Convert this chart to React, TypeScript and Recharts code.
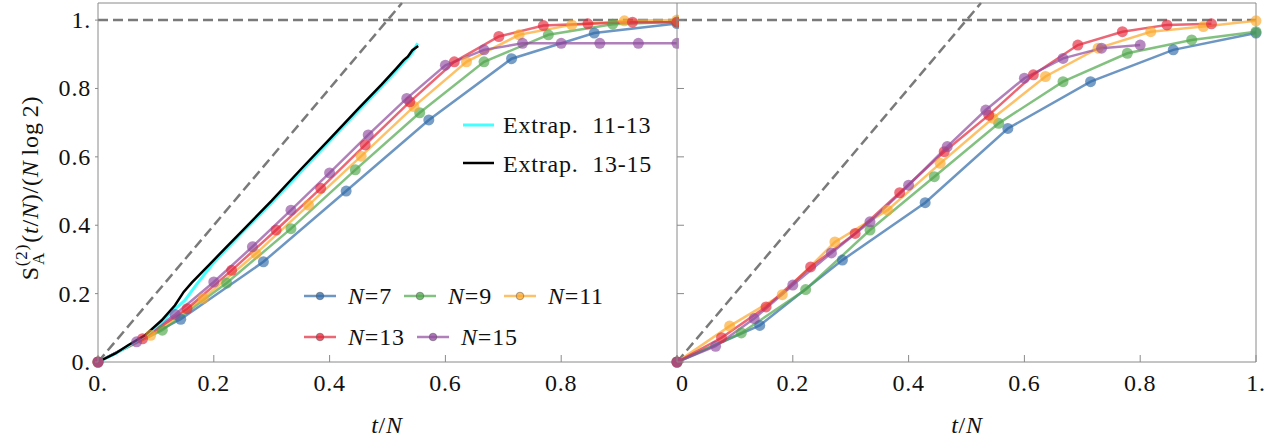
import React from 'react';
import { LineChart, Line, XAxis, YAxis, ReferenceLine } from 'recharts';

// ---------- data (x = t/N, y = S_A^(2)/(N log 2)) ----------
const t7 = [0, 0.1429, 0.2857, 0.4286, 0.5714, 0.7143, 0.8571, 1.0];
const t9 = [0, 0.1111, 0.2222, 0.3333, 0.4444, 0.5556, 0.6667, 0.7778, 0.8889, 1.0];
const t11 = [0, 0.0909, 0.1818, 0.2727, 0.3636, 0.4545, 0.5455, 0.6364, 0.7273, 0.8182, 0.9091, 1.0];
const t13 = [0, 0.0769, 0.1538, 0.2308, 0.3077, 0.3846, 0.4615, 0.5385, 0.6154, 0.6923, 0.7692, 0.8462, 0.9231, 1.0];
const t15 = [0, 0.0667, 0.1333, 0.2, 0.2667, 0.3333, 0.4, 0.4667, 0.5333, 0.6, 0.6667, 0.7333, 0.8, 0.8667, 0.9333, 1.0];

// left panel
const leftN7 = [0, 0.125, 0.293, 0.5, 0.708, 0.887, 0.962, 0.99];
const leftN9 = [0, 0.093, 0.231, 0.39, 0.562, 0.729, 0.878, 0.957, 0.988, 0.995];
const leftN11 = [0, 0.078, 0.186, 0.317, 0.459, 0.602, 0.747, 0.878, 0.957, 0.986, 0.998, 1.0];
const leftN13 = [0, 0.068, 0.156, 0.268, 0.386, 0.508, 0.635, 0.761, 0.878, 0.952, 0.984, 0.989, 0.994, 0.994];
const leftN15 = [0, 0.059, 0.139, 0.234, 0.337, 0.444, 0.553, 0.664, 0.771, 0.868, 0.913, 0.932, 0.932, 0.932, 0.932, 0.932];

// extrapolations (left panel)
const extrapT1113 = [0, 0.03, 0.052, 0.081, 0.11, 0.133, 0.15, 0.168, 0.197, 0.225, 0.25, 0.3, 0.35, 0.4, 0.45, 0.49, 0.515, 0.53, 0.543, 0.552];
const extrapV1113 = [0, 0.024, 0.047, 0.076, 0.118, 0.155, 0.18, 0.222, 0.285, 0.336, 0.38, 0.466, 0.556, 0.646, 0.736, 0.806, 0.852, 0.88, 0.905, 0.932];
const extrapT1315 = [0, 0.03, 0.052, 0.081, 0.11, 0.133, 0.148, 0.162, 0.197, 0.225, 0.25, 0.3, 0.35, 0.4, 0.45, 0.49, 0.515, 0.528, 0.535, 0.543, 0.553];
const extrapV1315 = [0, 0.025, 0.049, 0.078, 0.122, 0.166, 0.205, 0.232, 0.293, 0.342, 0.385, 0.472, 0.563, 0.652, 0.742, 0.812, 0.858, 0.883, 0.893, 0.912, 0.924];

// right panel
const rightN7 = [0, 0.107, 0.298, 0.466, 0.683, 0.82, 0.913, 0.962];
const rightN9 = [0, 0.085, 0.212, 0.386, 0.542, 0.698, 0.82, 0.903, 0.942, 0.966];
const rightN11 = [0, 0.105, 0.197, 0.351, 0.444, 0.581, 0.713, 0.835, 0.918, 0.966, 0.981, 0.998];
const rightN13 = [0, 0.071, 0.161, 0.278, 0.376, 0.495, 0.615, 0.722, 0.84, 0.927, 0.966, 0.986, 0.989];
const rightN15 = [0, 0.046, 0.127, 0.225, 0.319, 0.41, 0.517, 0.63, 0.737, 0.83, 0.888, 0.918, 0.927];

const xTicks = [0, 0.2, 0.4, 0.6, 0.8, 1];
const yTicks = [0, 0.2, 0.4, 0.6, 0.8, 1];
const leftXLabels = ['0.', '0.2', '0.4', '0.6', '0.8', ''];
const rightXLabels = ['0', '0.2', '0.4', '0.6', '0.8', '1.'];
const leftYLabels = ['0.', '0.2', '0.4', '0.6', '0.8', '1.'];

const seriesNames = ['N=7', 'N=9', 'N=11', 'N=13', 'N=15'];
const colors = ['#2f6aa8', '#4ea64a', '#fca82a', '#e3263a', '#8f4a9e'];

// ---------- helpers ----------
const mk = (t: number[], v: number[]) => v.map((y, i) => ({ x: t[i], y }));
const FONT = '"Liberation Serif", "Times New Roman", serif';
const AXIS = '#8a8a8a';
const FS = 24;
const LS = 0.8;
const txt = { fontFamily: FONT, fontSize: FS, letterSpacing: LS } as React.CSSProperties;

const labelFor = (labels: string[], value: number) => {
  const i = xTicks.findIndex((v) => Math.abs(v - value) < 1e-6);
  return i >= 0 ? labels[i] : '';
};

const makeXTick = (labels: string[], firstDx: number) => (p: any) => {
  const { x, y, payload } = p;
  const lab = labelFor(labels, payload.value);
  const dx = Math.abs(payload.value) < 1e-6 ? firstDx : 0;
  return (
    <g>
      <line x1={x} x2={x} y1={y} y2={y - 7} stroke={AXIS} strokeWidth={1} />
      <text x={x + dx} y={y + 29} textAnchor="middle" style={txt} fill="#111">
        {lab}
      </text>
    </g>
  );
};

const leftYTick = (p: any) => {
  const { x, y, payload } = p;
  const lab = labelFor(leftYLabels, payload.value);
  return (
    <g>
      <line x1={x - 3} x2={x} y1={y} y2={y} stroke={AXIS} strokeWidth={1} />
      <text x={x - 7} y={y + 8} textAnchor="end" style={txt} fill="#111">
        {lab}
      </text>
    </g>
  );
};

const rightYTick = (p: any) => {
  const { x, y } = p;
  return (
    <g>
      <line x1={x} x2={x + 7} y1={y} y2={y} stroke={AXIS} strokeWidth={1} />
    </g>
  );
};

const dataLeft = [leftN7, leftN9, leftN11, leftN13, leftN15];
const dataRight = [rightN7, rightN9, rightN11, rightN13, rightN15];
const tAll = [t7, t9, t11, t13, t15];

const seriesLines = (vals: number[][], prefix: string) =>
  vals.map((v, i) => (
    <Line
      key={prefix + i}
      data={mk(tAll[i], v)}
      dataKey="y"
      type="linear"
      stroke={colors[i]}
      strokeOpacity={0.7}
      strokeWidth={2.5}
      dot={{ r: 5.5, fill: colors[i], fillOpacity: 0.65, stroke: 'none' }}
      isAnimationActive={false}
      name={seriesNames[i]}
    />
  ));

const common = () => [
  <ReferenceLine key="top" y={1.05} stroke={AXIS} strokeWidth={1} ifOverflow="visible" />,
  <ReferenceLine key="one" y={1} stroke="#7a7a7a" strokeWidth={2.5} strokeDasharray="10 5" />,
  <ReferenceLine
    key="diag"
    segment={[
      { x: 0, y: 0 },
      { x: 0.525, y: 1.05 },
    ]}
    stroke="#7a7a7a"
    strokeWidth={2.5}
    strokeDasharray="10 5"
    ifOverflow="visible"
  />,
];

function LeftPanel() {
  return (
    <LineChart width={679} height={444} margin={{ top: 3, right: 2, bottom: 0, left: 0 }}>
      <XAxis
        type="number"
        dataKey="x"
        domain={[0, 1]}
        ticks={xTicks}
        interval={0}
        height={82}
        tickSize={0}
        tickMargin={0}
        tickLine={false}
        axisLine={{ stroke: AXIS }}
        tick={makeXTick(leftXLabels, 0)}
        allowDuplicatedCategory={false}
      />
      <YAxis
        type="number"
        domain={[0, 1.05]}
        ticks={yTicks}
        interval={0}
        width={98}
        tickSize={0}
        tickMargin={0}
        tickLine={false}
        axisLine={{ stroke: AXIS }}
        tick={leftYTick}
      />
      {common()}
      {seriesLines(dataLeft, 'l')}
      <Line
        data={mk(extrapT1113, extrapV1113)}
        dataKey="y"
        type="linear"
        stroke="#44ffff"
        strokeWidth={3}
        dot={false}
        isAnimationActive={false}
        name="Extrap. 11-13"
      />
      <Line
        data={mk(extrapT1315, extrapV1315)}
        dataKey="y"
        type="linear"
        stroke="#000"
        strokeWidth={2.5}
        dot={false}
        isAnimationActive={false}
        name="Extrap. 13-15"
      />
    </LineChart>
  );
}

function RightPanel() {
  return (
    <LineChart width={640} height={444} margin={{ top: 3, right: 23, bottom: 0, left: 0 }}>
      <XAxis
        type="number"
        dataKey="x"
        domain={[0, 1]}
        ticks={xTicks}
        interval={0}
        height={82}
        tickSize={0}
        tickMargin={0}
        tickLine={false}
        axisLine={{ stroke: AXIS }}
        tick={makeXTick(rightXLabels, 5.5)}
        allowDuplicatedCategory={false}
      />
      <YAxis
        type="number"
        domain={[0, 1.05]}
        ticks={yTicks}
        interval={0}
        width={38}
        tickSize={0}
        tickMargin={0}
        tickLine={false}
        axisLine={{ stroke: AXIS }}
        tick={rightYTick}
      />
      <ReferenceLine x={1} stroke={AXIS} strokeWidth={1} ifOverflow="visible" />
      {common()}
      {seriesLines(dataRight, 'r')}
    </LineChart>
  );
}

const legendRows = [
  { i: 0, x: 304, y: 296 },
  { i: 1, x: 404, y: 296 },
  { i: 2, x: 504, y: 296 },
  { i: 3, x: 304, y: 337 },
  { i: 4, x: 417, y: 337 },
];

function NLabel({ name }: { name: string }) {
  const rest = name.slice(1);
  return (
    <>
      <tspan fontStyle="italic">N</tspan>
      <tspan>{rest}</tspan>
    </>
  );
}

function Overlay() {
  return (
    <svg
      width={1279}
      height={444}
      style={{ position: 'absolute', left: 0, top: 0, pointerEvents: 'none' }}
    >
      {/* series legend */}
      {legendRows.map(({ i, x, y }) => (
        <g key={i}>
          <line x1={x} x2={x + 32} y1={y} y2={y} stroke={colors[i]} strokeOpacity={0.7} strokeWidth={2.5} />
          <circle cx={x + 16} cy={y} r={3.8} fill={colors[i]} fillOpacity={0.75} stroke="#555" strokeOpacity={0.5} strokeWidth={1} />
          <text x={x + 44} y={y + 8} style={txt} fill="#111">
            <NLabel name={seriesNames[i]} />
          </text>
        </g>
      ))}
      {/* extrapolation legend */}
      <line x1={463} x2={494} y1={125} y2={125} stroke="#44ffff" strokeWidth={3} />
      <text x={503} y={133} style={txt} fill="#111" xmlSpace="preserve">
        Extrap.  11-13
      </text>
      <line x1={463} x2={494} y1={163} y2={163} stroke="#000" strokeWidth={2.5} />
      <text x={503} y={171.5} style={txt} fill="#111" xmlSpace="preserve">
        Extrap.  13-15
      </text>
      {/* x axis titles */}
      {[387, 967].map((cx) => (
        <text key={cx} x={cx} y={433} textAnchor="middle" style={txt} fill="#111">
          <tspan fontStyle="italic">t</tspan>
          <tspan>/</tspan>
          <tspan fontStyle="italic">N</tspan>
        </text>
      ))}
      {/* y axis title */}
      <text transform="translate(38,188) rotate(-90)" textAnchor="middle" style={txt} fill="#111">
        <tspan>S</tspan>
        <tspan fontSize={17} dy={-11}>(2)</tspan>
        <tspan fontSize={17} dx={-21} dy={17}>A</tspan>
        <tspan dy={-6} dx={9}>(</tspan>
        <tspan fontStyle="italic">t</tspan>
        <tspan>/</tspan>
        <tspan fontStyle="italic">N</tspan>
        <tspan>)/(</tspan>
        <tspan fontStyle="italic">N</tspan>
        <tspan dx={5}>log</tspan>
        <tspan dx={5}>2)</tspan>
      </text>
    </svg>
  );
}

export default function App() {
  return (
    <div style={{ position: 'absolute', left: 0, top: 0, width: 1279, height: 444, background: '#fff' }}>
      <div style={{ position: 'absolute', left: 0, top: 0 }}>
        <LeftPanel />
      </div>
      <div style={{ position: 'absolute', left: 639, top: 0 }}>
        <RightPanel />
      </div>
      <Overlay />
    </div>
  );
}
